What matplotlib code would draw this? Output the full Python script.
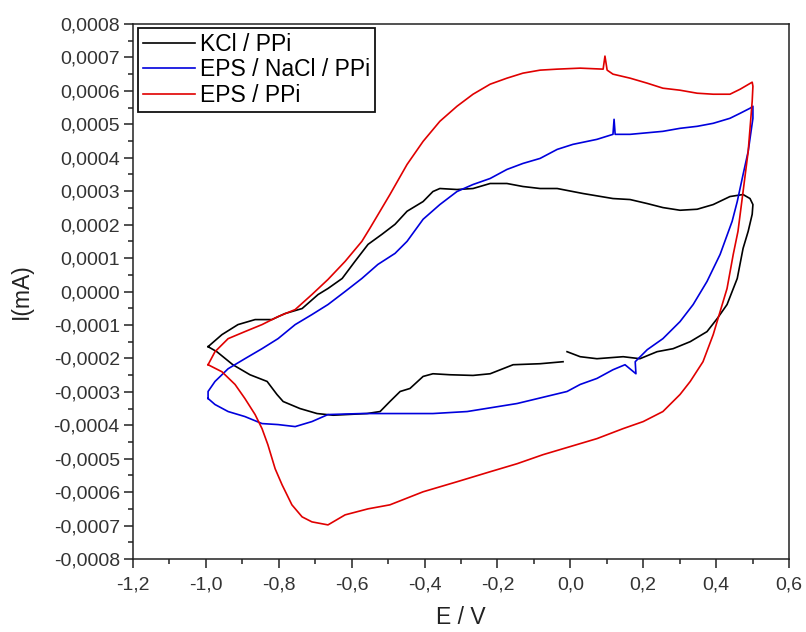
import numpy as np
import matplotlib
matplotlib.use("Agg")
import matplotlib.pyplot as plt
from matplotlib.ticker import MultipleLocator, FuncFormatter

plt.rcParams['font.family'] = ['Liberation Sans', 'DejaVu Sans']

# ---- data (E in V, I in units of 1e-4 mA) ----
SCALE = 1e-4

kcl_E = [-0.994, -0.956, -0.912, -0.865, -0.819, -0.783, -0.736, -0.692, -0.665, -0.626,
         -0.591, -0.555, -0.517, -0.481, -0.448, -0.404, -0.377, -0.358, -0.311, -0.267,
         -0.220, -0.174, -0.130, -0.083, -0.036, 0.035, 0.117, 0.164, 0.211, 0.254,
         0.301, 0.348, 0.392, 0.438, 0.474, 0.493, 0.501, 0.499,
         0.488, 0.474, 0.458, 0.430, 0.403, 0.375, 0.329, 0.282, 0.238, 0.191,
         0.145, 0.073, 0.027, -0.009, np.nan,
         -0.020, -0.083, -0.157, -0.220, -0.267, -0.330, -0.377, -0.404, -0.440, -0.467,
         -0.495, -0.522, -0.558, -0.651, -0.695, -0.742, -0.788, -0.805, -0.832, -0.879,
         -0.926, -0.970, -0.994]
kcl_I = [-1.65, -1.29, -0.99, -0.84, -0.84, -0.66, -0.51, -0.09, 0.09, 0.39,
         0.90, 1.41, 1.71, 2.01, 2.40, 2.69, 2.99, 3.08, 3.05, 3.08,
         3.23, 3.23, 3.14, 3.08, 3.08, 2.93, 2.78, 2.75, 2.63, 2.51,
         2.43, 2.46, 2.60, 2.84, 2.90, 2.78, 2.60, 2.31,
         1.80, 1.29, 0.39, -0.39, -0.81, -1.20, -1.50, -1.71, -1.80, -2.01,
         -1.95, -2.01, -1.95, -1.80, np.nan,
         -2.10, -2.16, -2.19, -2.46, -2.51, -2.49, -2.46, -2.54, -2.90, -2.99,
         -3.29, -3.59, -3.65, -3.70, -3.65, -3.50, -3.29, -3.08, -2.69, -2.49,
         -2.19, -1.80, -1.65]

nacl_E = [-0.994, -0.994, -0.975, -0.939, -0.893, -0.846, -0.802, -0.755, -0.709, -0.665,
          -0.618, -0.572, -0.528, -0.481, -0.448, -0.404, -0.358, -0.311, -0.267, -0.220,
          -0.174, -0.130, -0.083, -0.036, 0.007, 0.073, 0.117, 0.120, 0.123, 0.164,
          0.254, 0.301, 0.348, 0.392, 0.438, 0.466, 0.493, 0.501,
          0.501, 0.488, 0.474, 0.458, 0.444, 0.411, 0.375, 0.337, 0.301, 0.254,
          0.211, 0.178, 0.180, 0.150, 0.117, 0.073, 0.027, -0.009, -0.146, -0.283,
          -0.377, -0.481, -0.572, -0.665, -0.709, -0.755, -0.802, -0.846, -0.893, -0.939,
          -0.975, -0.994]
nacl_I = [-3.20, -2.99, -2.69, -2.31, -2.01, -1.71, -1.41, -0.99, -0.69, -0.39,
          0.00, 0.39, 0.81, 1.14, 1.50, 2.16, 2.60, 2.99, 3.20, 3.38,
          3.65, 3.83, 3.98, 4.25, 4.40, 4.55, 4.70, 5.15, 4.70, 4.70,
          4.79, 4.88, 4.94, 5.03, 5.18, 5.33, 5.48, 5.54,
          5.18, 4.19, 3.50, 2.69, 2.10, 1.11, 0.30, -0.39, -0.90, -1.41,
          -1.74, -2.10, -2.46, -2.19, -2.34, -2.60, -2.78, -2.99, -3.35, -3.59,
          -3.65, -3.65, -3.65, -3.68, -3.89, -4.04, -3.98, -3.95, -3.74, -3.59,
          -3.38, -3.20]

eps_E = [-0.994, -0.975, -0.939, -0.893, -0.846, -0.802, -0.755, -0.709, -0.665, -0.618,
         -0.572, -0.550, -0.495, -0.448, -0.404, -0.358, -0.311, -0.267, -0.220, -0.174,
         -0.130, -0.083, -0.036, 0.027, 0.090, 0.095, 0.101, 0.117, 0.164, 0.211,
         0.254, 0.301, 0.348, 0.392, 0.438, 0.466, 0.499,
         0.501, 0.499, 0.488, 0.474, 0.460, 0.447, 0.430, 0.411, 0.392, 0.364,
         0.329, 0.301, 0.254, 0.200, 0.145, 0.073, -0.001, -0.075, -0.146, -0.220,
         -0.311, -0.404, -0.495, -0.555, -0.618, -0.665, -0.709, -0.736, -0.764, -0.791,
         -0.810, -0.830, -0.846, -0.865, -0.893, -0.920, -0.956, -0.994]
eps_I = [-2.19, -1.80, -1.41, -1.20, -0.99, -0.75, -0.54, -0.09, 0.36, 0.90,
         1.50, 1.89, 2.90, 3.80, 4.49, 5.09, 5.54, 5.90, 6.20, 6.38,
         6.53, 6.62, 6.65, 6.68, 6.65, 7.04, 6.62, 6.50, 6.38, 6.23,
         6.08, 6.02, 5.93, 5.90, 5.90, 6.05, 6.26,
         6.14, 5.69, 4.19, 2.99, 1.80, 1.11, 0.09, -0.60, -1.29, -2.10,
         -2.69, -3.08, -3.59, -3.89, -4.10, -4.40, -4.64, -4.88, -5.15, -5.39,
         -5.69, -5.99, -6.38, -6.50, -6.68, -6.98, -6.89, -6.74, -6.38, -5.78,
         -5.30, -4.58, -4.10, -3.68, -3.20, -2.78, -2.40, -2.19]

labels = ["KCl / PPi", "EPS / NaCl / PPi", "EPS / PPi"]
colors = ["#000000", "#0000dd", "#e00000"]

# ---- figure ----
fig = plt.figure(figsize=(8.06, 6.32), dpi=100)
ax = fig.add_axes([133/806, 1 - 559/632, 656/806, 535/632])

series = [(kcl_E, kcl_I), (nacl_E, nacl_I), (eps_E, eps_I)]
for (E, I), lab, c in zip(series, labels, colors):
    ax.plot(E, np.array(I, dtype=float) * SCALE, color=c, lw=1.2, label=lab)

ax.set_xlim(-1.2, 0.6)
ax.set_ylim(-0.0008, 0.0008)
ax.xaxis.set_major_locator(MultipleLocator(0.2))
ax.xaxis.set_minor_locator(MultipleLocator(0.1))
ax.yaxis.set_major_locator(MultipleLocator(0.0001))
ax.yaxis.set_minor_locator(MultipleLocator(0.00005))

def fx(v, pos):
    s = f"{v:.1f}"
    if s == "-0.0":
        s = "0.0"
    return s.replace('.', ',')

def fy(v, pos):
    s = f"{v:.4f}"
    if s == "-0.0000":
        s = "0.0000"
    return s.replace('.', ',')

ax.xaxis.set_major_formatter(FuncFormatter(fx))
ax.yaxis.set_major_formatter(FuncFormatter(fy))

ax.tick_params(which='both', direction='out', top=False, right=False, width=1.1, colors='#222222')
ax.tick_params(which='major', length=6.5, labelsize=14, labelcolor='#333333')
ax.tick_params(which='minor', length=3.8)
ax.tick_params(axis='x', which='major', pad=6)
ax.tick_params(axis='y', which='major', pad=3)
for sp in ax.spines.values():
    sp.set_linewidth(1.1)
    sp.set_color('#222222')

ax.set_xlabel("E / V", fontsize=16.5, color='#222222')
ax.set_ylabel("I(mA)", fontsize=16.5, color='#222222')
ax.xaxis.set_label_coords(0.5, -0.088)
ax.yaxis.set_label_coords(-0.152, 0.5)

leg = ax.legend(loc='upper left', bbox_to_anchor=(5/656, 1 - 4/535), borderaxespad=0,
                fontsize=16.5, frameon=True, fancybox=False, framealpha=1,
                handlelength=2.3, handletextpad=0.2, labelspacing=0.12, borderpad=0.2)
leg.get_frame().set_edgecolor('#111111')
leg.get_frame().set_linewidth(1.3)

fig.savefig("out.png", dpi=100, facecolor='white')
